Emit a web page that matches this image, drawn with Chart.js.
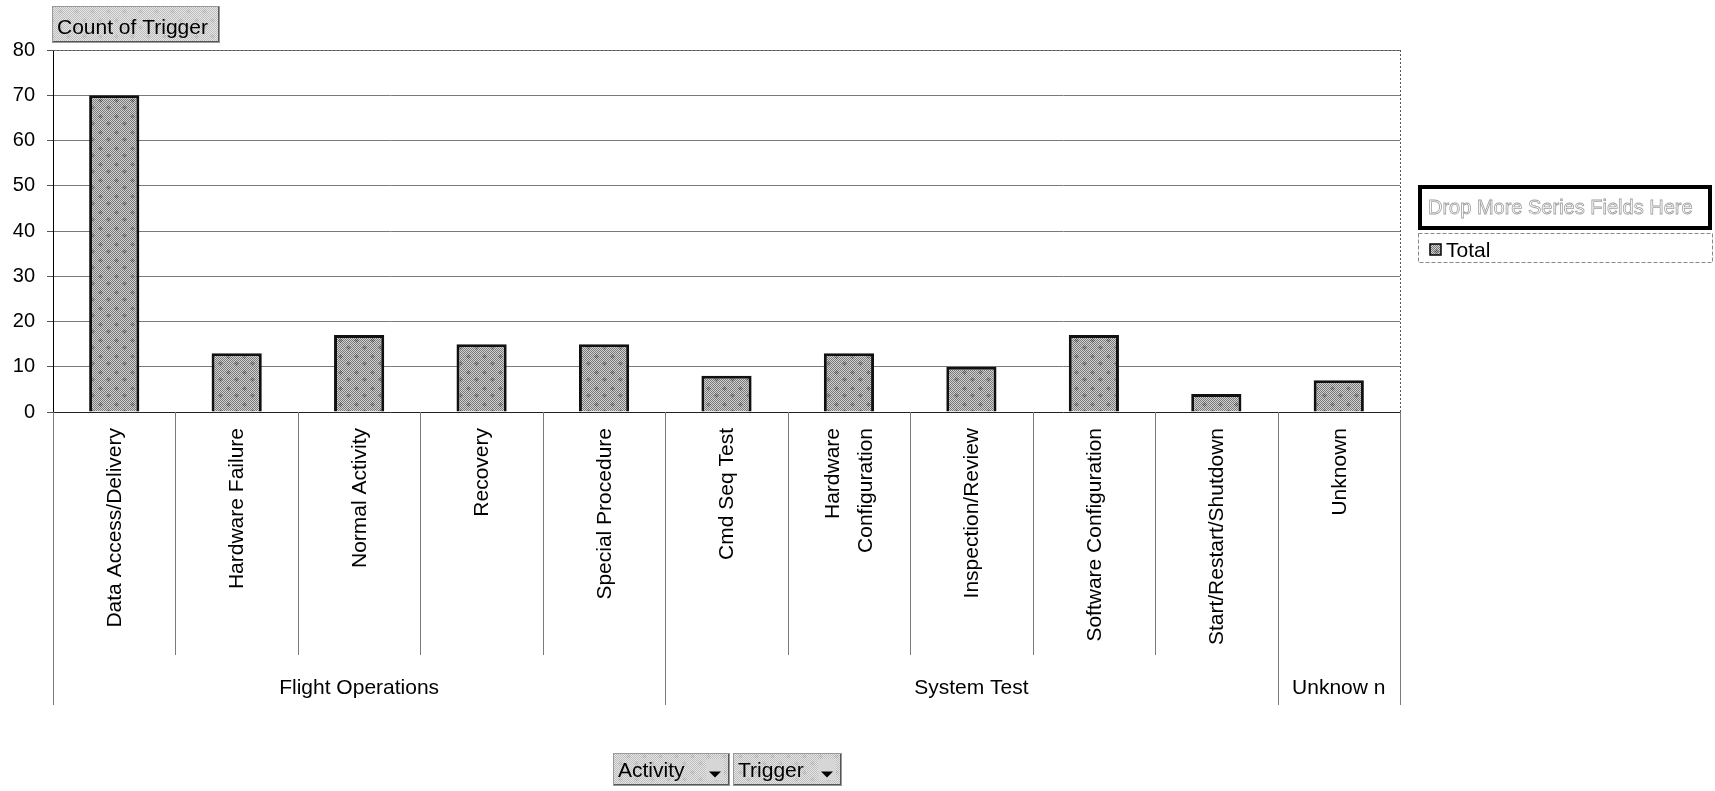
<!DOCTYPE html>
<html><head><meta charset="utf-8">
<script src="https://cdn.jsdelivr.net/npm/chart.js@4.4.1/dist/chart.umd.min.js"></script>
<style>html,body{margin:0;padding:0;background:#fff;overflow:hidden}#wrap{width:1715px;height:791px;position:relative}</style>
</head><body><div id="wrap"><canvas id="c" width="1715" height="791"></canvas></div>
<script>
const categories = ['Data Access/Delivery','Hardware Failure','Normal Activity','Recovery','Special Procedure','Cmd Seq Test',['Hardware','Configuration'],'Inspection/Review','Software Configuration','Start/Restart/Shutdown','Unknown'];
const groupNames = ['Flight Operations','System Test','Unknow n'];
const groupSizes = [5,5,1];
const totals = [70,13,17,15,15,8,13,10,17,4,7];
const yMin = 0, yMax = 80, yStep = 10;
const seriesName = 'Total';
const titleButton = 'Count of Trigger';
const dropText = 'Drop More Series Fields Here';
const fieldButtons = ['Activity','Trigger'];

const FONT = '"Liberation Sans", Arial, sans-serif';

function makePattern(ctx, dark, light, patchDark, patchLight) {
  const S = 16;
  const t = document.createElement('canvas');
  t.width = S; t.height = S;
  const g = t.getContext('2d');
  const img = g.createImageData(S, S);
  for (let j = 0; j < S; j++) for (let i = 0; i < S; i++) {
    const chk = (i + j) % 2 === 0;
    let v = chk ? dark : light;
    const a = Math.abs(i - 4) + Math.abs(j - 4);
    const b = Math.abs(i - 12) + Math.abs(j - 11);
    if (a < 3 || b < 3) v = chk ? patchDark : patchLight;
    const k = (j * S + i) * 4;
    img.data[k] = img.data[k+1] = img.data[k+2] = v; img.data[k+3] = 255;
  }
  g.putImageData(img, 0, 0);
  return ctx.createPattern(t, 'repeat');
}

const canvas = document.getElementById('c');
const ctx0 = canvas.getContext('2d');
const barPattern = makePattern(ctx0, 120, 210, 85, 170);
const btnPattern = makePattern(ctx0, 190, 228, 175, 215);

function drawButton(ctx, x, y, w, h, text, arrow) {
  ctx.save();
  ctx.fillStyle = btnPattern;
  ctx.fillRect(x, y, w, h);
  ctx.strokeStyle = '#f2f2f2'; ctx.lineWidth = 1;
  ctx.beginPath(); ctx.moveTo(x + 0.5, y + h); ctx.lineTo(x + 0.5, y + 0.5); ctx.lineTo(x + w, y + 0.5); ctx.stroke();
  ctx.strokeStyle = '#555'; ctx.lineWidth = 2;
  ctx.beginPath(); ctx.moveTo(x + w - 1, y); ctx.lineTo(x + w - 1, y + h - 1); ctx.lineTo(x, y + h - 1); ctx.stroke();
  ctx.strokeStyle = '#999'; ctx.lineWidth = 1;
  ctx.strokeRect(x + 0.5, y + 0.5, w - 1, h - 1);
  ctx.fillStyle = '#000';
  ctx.font = '21px ' + FONT;
  ctx.textAlign = 'left'; ctx.textBaseline = 'alphabetic';
  ctx.fillText(text, x + 5, y + h - 9);
  if (arrow) {
    const ax = x + w - 24, ay = y + 6, aw = 18, ah = h - 12;
    ctx.fillStyle = '#d6d6d6'; ctx.fillRect(ax, ay, aw, ah);
    ctx.fillStyle = '#000';
    ctx.beginPath();
    const cx = ax + aw / 2, cy = ay + ah / 2 + 5;
    ctx.moveTo(cx - 6, cy - 3); ctx.lineTo(cx + 6, cy - 3); ctx.lineTo(cx, cy + 3); ctx.closePath(); ctx.fill();
  }
  ctx.restore();
}

const decor = {
  id: 'decor',
  afterDraw(chart) {
    const ctx = chart.ctx, x = chart.scales.x, area = chart.chartArea;
    const n = categories.length;
    ctx.save();
    // dotted right/top border of plot area
    ctx.strokeStyle = '#555'; ctx.lineWidth = 1; ctx.setLineDash([2, 2]);
    ctx.beginPath(); ctx.moveTo(Math.round(area.right) + 0.5, area.top); ctx.lineTo(Math.round(area.right) + 0.5, area.bottom); ctx.stroke();
    ctx.beginPath(); ctx.moveTo(area.left, Math.round(area.top) + 0.5); ctx.lineTo(area.right, Math.round(area.top) + 0.5); ctx.stroke();
    ctx.setLineDash([]);
    // boundaries below axis
    const groupEdges = new Set([0]);
    let acc = 0; groupSizes.forEach(s => { acc += s; groupEdges.add(acc); });
    const bpos = [];
    for (let i = 0; i <= n; i++) {
      let bx;
      if (i === 0) bx = area.left;
      else if (i === n) bx = area.right;
      else bx = (x.getPixelForValue(i - 1) + x.getPixelForValue(i)) / 2;
      bpos.push(bx);
      const isGroup = groupEdges.has(i);
      ctx.strokeStyle = '#7a7a7a'; ctx.lineWidth = 1;
      ctx.beginPath();
      const px = Math.round(bx) + 0.5;
      ctx.moveTo(px, area.bottom); ctx.lineTo(px, isGroup ? 705 : 655);
      ctx.stroke();
    }
    // category labels rotated
    ctx.fillStyle = '#000';
    ctx.font = '21px ' + FONT;
    for (let i = 0; i < n; i++) {
      const cx = x.getPixelForValue(i);
      const lab = categories[i];
      const lines = Array.isArray(lab) ? lab : [lab];
      ctx.save();
      ctx.translate(cx, area.bottom + 16);
      ctx.rotate(-Math.PI / 2);
      ctx.textAlign = 'right'; ctx.textBaseline = 'middle';
      lines.forEach((ln, k) => {
        const off = (k - (lines.length - 1) / 2) * 33;
        ctx.fillText(ln, 0, off + 1);
      });
      ctx.restore();
    }
    // group labels
    ctx.textAlign = 'center'; ctx.textBaseline = 'middle';
    let start = 0;
    groupNames.forEach((g, gi) => {
      const end = start + groupSizes[gi];
      const cx = (bpos[start] + bpos[end]) / 2;
      ctx.fillText(g, cx, 688);
      start = end;
    });
    // title button
    drawButton(ctx, 52, 6, 168, 37, titleButton, false);
    // field buttons
    drawButton(ctx, 613, 753, 117, 33, fieldButtons[0], true);
    drawButton(ctx, 733, 753, 109, 33, fieldButtons[1], true);
    // legend: drop zone
    ctx.strokeStyle = '#000'; ctx.lineWidth = 4;
    ctx.strokeRect(1420, 187, 290, 41);
    ctx.font = '20px ' + FONT; ctx.textAlign = 'left'; ctx.textBaseline = 'alphabetic';
    ctx.fillStyle = '#ffffff'; ctx.fillText(dropText, 1428, 214);
    ctx.strokeStyle = '#a0a0a0'; ctx.lineWidth = 0.8; ctx.strokeText(dropText, 1428, 214);
    // legend: series box
    ctx.strokeStyle = '#888'; ctx.lineWidth = 1; ctx.setLineDash([4, 2]);
    ctx.strokeRect(1418.5, 233.5, 294, 29);
    ctx.setLineDash([]);
    ctx.fillStyle = barPattern; ctx.fillRect(1430, 244, 11, 11);
    ctx.strokeStyle = '#000'; ctx.lineWidth = 1.5; ctx.strokeRect(1430, 244, 11, 11);
    ctx.fillStyle = '#000'; ctx.font = '21px ' + FONT;
    ctx.fillText(seriesName, 1446, 257);
    ctx.restore();
  }
};

new Chart(canvas, {
  type: 'bar',
  data: {
    labels: categories,
    datasets: [{
      label: seriesName,
      data: totals,
      backgroundColor: barPattern,
      borderColor: '#111',
      borderWidth: 3,
      borderSkipped: 'start',
      barPercentage: 0.41,
      categoryPercentage: 1
    }]
  },
  options: {
    responsive: false,
    animation: false,
    devicePixelRatio: 1,
    layout: { padding: { left: 0, top: 50, right: 315, bottom: 379 } },
    plugins: { legend: { display: false }, tooltip: { enabled: false }, title: { display: false } },
    scales: {
      x: { display: false },
      y: {
        min: yMin, max: yMax,
        ticks: { stepSize: yStep, color: '#000', font: { family: FONT, size: 20 }, padding: 12 },
        grid: {
          color: c => (c.tick && c.tick.value === 0) ? '#222' : '#7a7a7a',
          tickColor: '#555', tickLength: 6, lineWidth: 1
        },
        border: { display: true, color: '#000', width: 1 },
        afterFit: s => { s.width = 53; }
      }
    }
  },
  plugins: [decor]
});
</script>
</body></html>
